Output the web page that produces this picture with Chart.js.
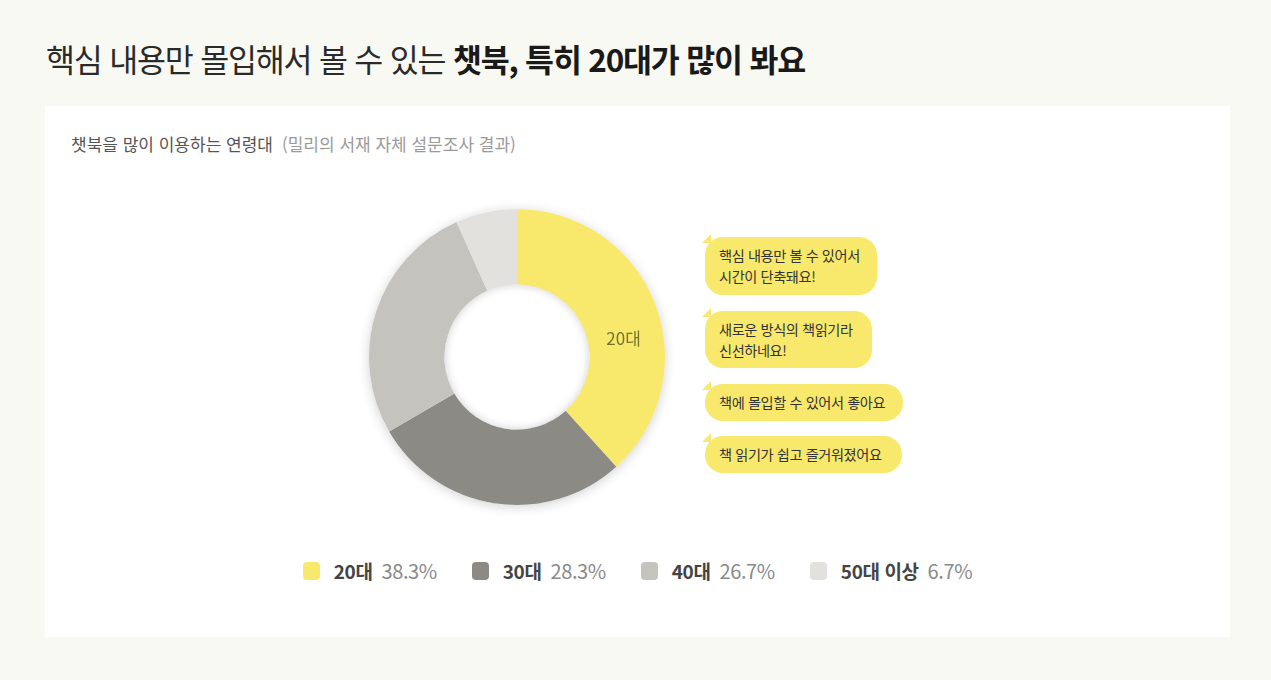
<!DOCTYPE html>
<html lang="ko">
<head>
<meta charset="utf-8">
<script src="https://cdn.jsdelivr.net/npm/chart.js@4/dist/chart.umd.min.js"></script>
<style>
  html,body{margin:0;padding:0;}
  body{width:1271px;height:680px;background:#f9f9f4;position:relative;overflow:hidden;
       font-family:"Noto Sans CJK KR","Noto Sans",sans-serif;color:#222;}
  #title{position:absolute;left:46px;top:35px;font-size:31.5px;letter-spacing:-1.2px;line-height:46px;white-space:nowrap;color:#2a2a2a;}
  #title b{font-weight:700;color:#1a1a1a;}
  #card{position:absolute;left:45px;top:106px;width:1185px;height:531px;background:#fff;}
  #sub{position:absolute;left:26px;top:25px;font-size:17px;letter-spacing:0px;color:#555;white-space:nowrap;}
  #sub span{color:#9a9a9a;margin-left:9px;}
  #chartBox{position:absolute;left:312px;top:91px;width:320px;height:320px;}
  .bubble{position:absolute;left:660px;background:#f8e96c;border-radius:18px;font-size:14.2px;letter-spacing:-0.4px;
          color:#333;line-height:21px;padding:0 14px;box-sizing:border-box;display:flex;align-items:center;white-space:nowrap;}
  .bubble:before{content:"";position:absolute;left:-3px;top:-3px;width:0;height:0;
          border-left:9px solid transparent;border-bottom:9px solid #f8e96c;}
  #legend{position:absolute;left:0;width:1185px;top:450px;display:flex;justify-content:center;gap:35px;letter-spacing:-0.4px;}
  .li{display:flex;align-items:center;white-space:nowrap;}
  .sw{width:17px;height:18px;border-radius:4px;margin-right:14px;}
  .li b{color:#444;font-weight:700;margin-right:9px;font-size:19px;}
  .li span{color:#8a8a8a;font-size:20px;}
</style>
</head>
<body>
<div id="title">핵심 내용만 몰입해서 볼 수 있는 <b>챗북, 특히 20대가 많이 봐요</b></div>
<div id="card">
  <div id="sub">챗북을 많이 이용하는 연령대<span>(밀리의 서재 자체 설문조사 결과)</span></div>
  <div id="chartBox"><canvas id="c"></canvas></div>
  <div id="bubbles"></div>
  <div id="legend"></div>
</div>
<script>
const categories = ["20대", "30대", "40대", "50대 이상"];
const shares = [38.3, 28.3, 26.7, 6.7];
const colors = ["#f8e96c", "#8c8a84", "#c5c3bd", "#e2e1dd"];
const comments = [
  ["핵심 내용만 볼 수 있어서", "시간이 단축돼요!"],
  ["새로운 방식의 책읽기라", "신선하네요!"],
  ["책에 몰입할 수 있어서 좋아요"],
  ["책 읽기가 쉽고 즐거워졌어요"]
];
const bubbleLayout = [[131,172,58],[205,167,57],[278,198,37],[330,197,37]];

// bubbles
const bw = document.getElementById('bubbles');
comments.forEach((lines, i) => {
  const d = document.createElement('div');
  d.className = 'bubble';
  d.style.top = bubbleLayout[i][0] + 'px';
  d.style.width = bubbleLayout[i][1] + 'px';
  d.style.height = bubbleLayout[i][2] + 'px';
  d.innerHTML = lines.join('<br>');
  bw.appendChild(d);
});

// legend
const lg = document.getElementById('legend');
categories.forEach((c, i) => {
  const it = document.createElement('div');
  it.className = 'li';
  it.innerHTML = '<div class="sw" style="background:' + colors[i] + '"></div><b>' + c + '</b><span>' + shares[i].toFixed(1) + '%</span>';
  lg.appendChild(it);
});

const shadowPlugin = {
  id: 'ringShadow',
  beforeDatasetsDraw(chart) {
    const arc = chart.getDatasetMeta(0).data[0];
    if (!arc) return;
    const ctx = chart.ctx;
    ctx.save();
    ctx.shadowColor = 'rgba(0,0,0,0.18)';
    ctx.shadowBlur = 12;
    ctx.shadowOffsetY = 2;
    ctx.fillStyle = '#fff';
    ctx.beginPath();
    ctx.arc(arc.x, arc.y, arc.outerRadius, 0, Math.PI * 2);
    ctx.fill();
    ctx.restore();
  },
  afterDatasetsDraw(chart) {
    const meta = chart.getDatasetMeta(0);
    const arc = meta.data[0];
    if (!arc) return;
    const ctx = chart.ctx;
    ctx.save();
    ctx.beginPath();
    ctx.arc(arc.x, arc.y, arc.innerRadius, 0, Math.PI * 2);
    ctx.clip();
    ctx.shadowColor = 'rgba(0,0,0,0.22)';
    ctx.shadowBlur = 8;
    ctx.lineWidth = 6;
    ctx.strokeStyle = '#fff';
    ctx.beginPath();
    ctx.arc(arc.x, arc.y, arc.innerRadius + 3, 0, Math.PI * 2);
    ctx.stroke();
    ctx.restore();
    const a = arc.startAngle + (arc.endAngle - arc.startAngle) * 0.58;
    const r = (arc.innerRadius + arc.outerRadius) / 2 - 2;
    ctx.save();
    ctx.font = '17px "Noto Sans CJK KR", sans-serif';
    ctx.fillStyle = '#77742e';
    ctx.textAlign = 'center';
    ctx.textBaseline = 'middle';
    ctx.fillText(categories[0], arc.x + Math.cos(a) * r, arc.y + Math.sin(a) * r);
    ctx.restore();
  }
};

new Chart(document.getElementById('c'), {
  type: 'doughnut',
  data: {
    labels: categories,
    datasets: [{ data: shares, backgroundColor: colors, borderWidth: 0, hoverOffset: 0 }]
  },
  options: {
    responsive: true,
    maintainAspectRatio: false,
    animation: false,
    cutout: '49%',
    layout: { padding: 12 },
    plugins: { legend: { display: false }, tooltip: { enabled: false } }
  },
  plugins: [shadowPlugin]
});
</script>
</body>
</html>
